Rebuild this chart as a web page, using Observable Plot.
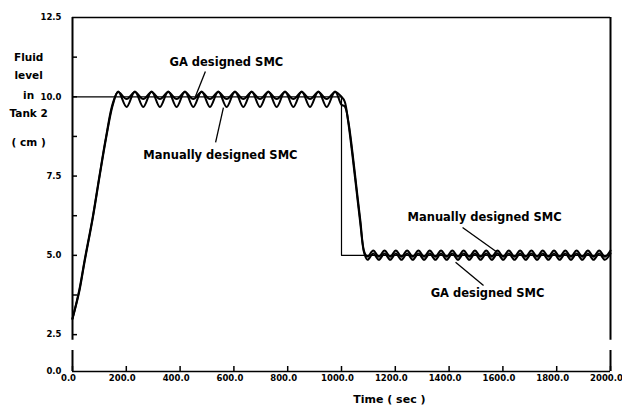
<!DOCTYPE html>
<html>
<head>
<meta charset="utf-8">
<script src="https://cdn.jsdelivr.net/npm/d3@7"></script>
<script src="https://cdn.jsdelivr.net/npm/@observablehq/plot@0.6"></script>
<style>
  html, body { margin: 0; padding: 0; background: #fff; }
</style>
</head>
<body>
<div id="chart"></div>
<script>
// ---- data ----
const timeSec = [0, 25, 45, 75, 100, 125, 150,
  170, 201, 232, 263, 294, 325, 356, 387, 418, 449, 480, 511, 542, 573, 604, 635, 666, 697, 728, 759, 790, 821, 852, 883, 914, 945, 976,
  1000, 1012, 1025, 1040, 1055, 1070, 1085,
  1097, 1118, 1139, 1160, 1181, 1202, 1223, 1244, 1265, 1286, 1307, 1328, 1349, 1370, 1391, 1412, 1433, 1454, 1475, 1496, 1517, 1538,
  1559, 1580, 1601, 1622, 1643, 1664, 1685, 1706, 1727, 1748, 1769, 1790, 1811, 1832, 1853, 1874, 1895, 1916, 1937, 1958, 1979, 2000];

const gaLevel = [3.0, 3.9, 4.85, 6.2, 7.5, 8.75, 9.8,
  10.15, 9.93, 10.15, 9.93, 10.15, 9.93, 10.15, 9.93, 10.15, 9.93, 10.15, 9.93, 10.15, 9.93, 10.15, 9.93, 10.15, 9.93, 10.15, 9.93, 10.15, 9.93, 10.15, 9.93, 10.15, 9.93, 10.15,
  10.0, 9.85, 9.2, 8.2, 7.1, 6.0, 5.05,
  4.86, 5.06, 4.86, 5.06, 4.86, 5.06, 4.86, 5.06, 4.86, 5.06, 4.86, 5.06, 4.86, 5.06, 4.86, 5.06, 4.86, 5.06, 4.86, 5.06, 4.86, 5.06,
  4.86, 5.06, 4.86, 5.06, 4.86, 5.06, 4.86, 5.06, 4.86, 5.06, 4.86, 5.06, 4.86, 5.06, 4.86, 5.06, 4.86, 5.06, 4.86, 5.06, 4.86, 5.06];

const manualLevel = [3.0, 3.85, 4.8, 6.15, 7.45, 8.7, 9.75,
  10.17, 9.68, 10.17, 9.68, 10.17, 9.68, 10.17, 9.68, 10.17, 9.68, 10.17, 9.68, 10.17, 9.68, 10.17, 9.68, 10.17, 9.68, 10.17, 9.68, 10.17, 9.68, 10.17, 9.68, 10.17, 9.68, 10.17,
  9.75, 9.7, 9.25, 8.3, 7.2, 6.1, 5.1,
  4.96, 5.15, 4.96, 5.15, 4.96, 5.15, 4.96, 5.15, 4.96, 5.15, 4.96, 5.15, 4.96, 5.15, 4.96, 5.15, 4.96, 5.15, 4.96, 5.15, 4.96, 5.15,
  4.96, 5.15, 4.96, 5.15, 4.96, 5.15, 4.96, 5.15, 4.96, 5.15, 4.96, 5.15, 4.96, 5.15, 4.96, 5.15, 4.96, 5.15, 4.96, 5.15, 4.96, 5.15];

const setpointTime = [0, 1000, 1000, 2000];
const setpointLevel = [10, 10, 5, 5];

const xTicks = [0, 200, 400, 600, 800, 1000, 1200, 1400, 1600, 1800, 2000];
const yTickLabels = [0, 2.5, 5, 7.5, 10, 12.5];
const yTickMarks = [2.5, 3.75, 5, 6.25, 7.5, 8.75, 10, 11.25];

// axis break (left and right spines are interrupted)
const breakLow = 2.0;
const breakHigh = 2.32;

// annotations
const annoText = ["GA designed SMC", "Manually designed SMC", "Manually designed SMC", "GA designed SMC"];
const annoTime = [572, 550, 1532, 1543];
const annoLevel = [11.08, 8.15, 6.19, 3.80];
const leaderT1 = [494, 532, 1450, 1424];
const leaderV1 = [10.8, 8.56, 5.88, 4.78];
const leaderT2 = [457, 561, 1580, 1528];
const leaderV2 = [10.01, 9.66, 5.09, 4.05];

const yLabelLines = ["Fluid", "level", "in", "Tank 2", "( cm )"];
const yLabelLevel = [11.24, 10.67, 10.04, 9.47, 8.56];
const yLabelTime = -163;

// ---- build tables ----
const ga = timeSec.map((t, i) => ({t, v: gaLevel[i]}));
const manual = timeSec.map((t, i) => ({t, v: manualLevel[i]}));
const setpoint = setpointTime.map((t, i) => ({t, v: setpointLevel[i]}));
const anno = annoText.map((s, i) => ({s, t: annoTime[i], v: annoLevel[i]}));
const leaders = leaderT1.map((t1, i) => ({t1, v1: leaderV1[i], t2: leaderT2[i], v2: leaderV2[i]}));
const ylab = yLabelLines.map((s, i) => ({s, v: yLabelLevel[i]}));
const spines = [
  {x: 0, y1: breakHigh, y2: 12.5}, {x: 0, y1: 0, y2: breakLow},
  {x: 2000, y1: breakHigh, y2: 12.5}, {x: 2000, y1: 0, y2: breakLow}
];

const font = "'DejaVu Sans', sans-serif";

const chart = Plot.plot({
  width: 622,
  height: 413,
  marginLeft: 72,
  marginRight: 12,
  marginTop: 17,
  marginBottom: 42,
  style: {fontFamily: font, fontWeight: "bold", fontSize: "8.5px", color: "#000", background: "#fff"},
  x: {domain: [0, 2000], label: null},
  y: {type: "linear", domain: [0, breakLow, 12.5], range: [371, 350, 17], label: null},
  marks: [
    // frame
    Plot.ruleY([12.5, 0], {stroke: "#000", strokeWidth: 1.5}),
    Plot.ruleX(spines, {x: "x", y1: "y1", y2: "y2", stroke: "#000", strokeWidth: 2}),
    // axes
    Plot.axisY({ticks: yTickLabels, tickFormat: ".1f", tickSize: 0, tickPadding: 11, label: null, fontWeight: "bold"}),
    Plot.axisY({ticks: yTickMarks, tickSize: -5, text: null, label: null, strokeWidth: 1.5}),
    Plot.axisX({ticks: xTicks, tickFormat: ".1f", tickSize: 0, tickPadding: 3, dx: -4, label: null, fontWeight: "bold"}),
    Plot.axisX({ticks: xTicks, tickSize: -5, text: null, label: null, strokeWidth: 1.5}),
    // series
    Plot.line(setpoint, {x: "t", y: "v", stroke: "#000", strokeWidth: 1.2}),
    Plot.line(manual, {x: "t", y: "v", stroke: "#000", strokeWidth: 2, curve: "catmull-rom"}),
    Plot.line(ga, {x: "t", y: "v", stroke: "#000", strokeWidth: 2, curve: "catmull-rom"}),
    // annotations
    Plot.link(leaders, {x1: "t1", y1: "v1", x2: "t2", y2: "v2", stroke: "#000", strokeWidth: 1.3}),
    Plot.text(anno, {x: "t", y: "v", text: "s", fontSize: 11.5, fontWeight: "bold", fill: "#000"}),
    Plot.text(ylab, {x: yLabelTime, y: "v", text: "s", fontSize: 10.5, fontWeight: "bold", fill: "#000"}),
    Plot.text(["Time ( sec )"], {x: [1178], frameAnchor: "bottom", dy: 31, text: (d) => d, fontSize: 11, fontWeight: "bold", fill: "#000"})
  ]
});

document.getElementById("chart").appendChild(chart);
</script>
</body>
</html>
